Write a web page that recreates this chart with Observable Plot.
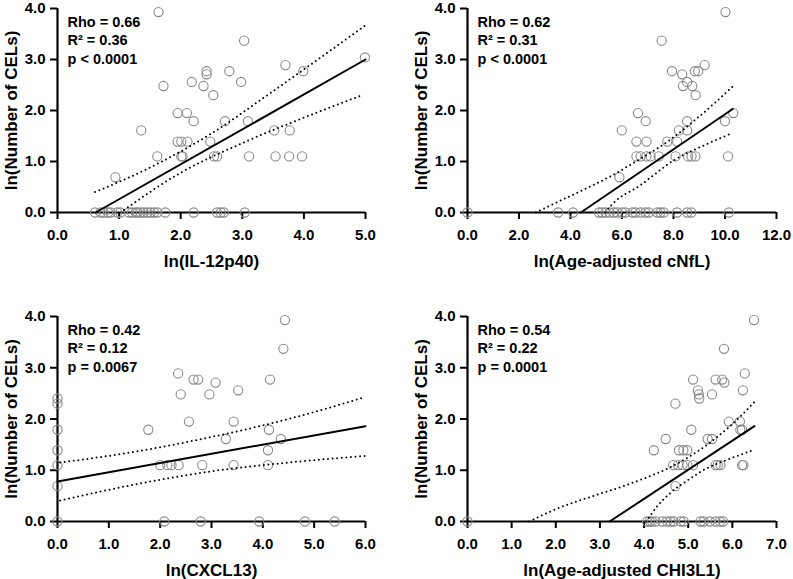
<!DOCTYPE html>
<html><head><meta charset="utf-8">
<script src="https://cdn.jsdelivr.net/npm/d3@7"></script>
<script src="https://cdn.jsdelivr.net/npm/@observablehq/plot@0.6"></script>
<style>
body{margin:0;background:#fff;}
#wrap{position:relative;width:793px;height:579px;overflow:hidden;font-family:"Liberation Sans",Arial,sans-serif;}
#wrap > div{position:absolute;}
</style></head><body>
<div id="wrap">
  <div id="p1" style="left:0;top:0"></div>
  <div id="p2" style="left:410px;top:0"></div>
  <div id="p3" style="left:0;top:300px"></div>
  <div id="p4" style="left:410px;top:300px"></div>
</div>
<script>
// ---------- Panel 1: IL-12p40 ----------
const p1x = [1.64,4.99,3.03,3.70,3.99,2.42,2.42,2.79,1.72,2.18,2.37,2.98,2.53,1.95,2.10,2.21,2.72,3.09,1.36,3.52,3.77,1.95,2.01,2.11,2.48,1.62,2.01,2.03,2.54,2.59,3.11,3.54,3.76,3.97,0.94,
  0.61,0.70,0.75,0.82,0.86,0.97,1.02,1.16,1.21,1.27,1.30,1.35,1.40,1.46,1.51,1.57,1.62,1.75,2.21,2.59,2.65,2.70,3.04];
const p1y = [3.93,3.04,3.37,2.89,2.77,2.77,2.71,2.77,2.48,2.56,2.48,2.56,2.30,1.95,1.95,1.79,1.79,1.79,1.61,1.61,1.61,1.39,1.39,1.39,1.39,1.10,1.10,1.10,1.10,1.10,1.10,1.10,1.10,1.10,0.69,
  0,0,0,0,0,0,0,0,0,0,0,0,0,0,0,0,0,0,0,0,0,0,0];
const p1FitX = [0.62, 5.0], p1FitY = [0, 3.0];
const p1UpX = [0.61,1.5,2.5,3.5,5.0], p1UpY = [0.40,0.88,1.55,2.38,3.67];
const p1LoX = [1.08,2.0,3.0,4.0,4.95], p1LoY = [0.05,0.78,1.36,1.86,2.30];
const p1Ticks = [0,1,2,3,4,5];
const p1Label = "ln(IL-12p40)";
const p1Stats = ["Rho = 0.66", "R\u00B2 = 0.36", "p < 0.0001"];

// ---------- Panel 2: Age-adjusted cNfL ----------
const p2x = [10.02,7.54,9.21,8.96,8.83,7.94,8.34,8.53,8.37,8.73,8.86,6.62,10.32,6.92,8.53,10.0,5.99,8.21,8.53,6.56,6.95,7.76,8.14,6.56,6.72,6.95,7.11,7.43,8.08,8.57,8.70,8.85,10.12,5.90,
  0,3.52,4.10,5.10,5.23,5.36,5.52,5.68,5.81,6.01,6.14,6.40,6.52,6.72,6.91,7.04,7.37,7.49,7.62,8.14,8.53,8.69,10.15];
const p2y = [3.93,3.37,2.89,2.77,2.77,2.77,2.71,2.56,2.48,2.48,2.30,1.95,1.95,1.79,1.79,1.79,1.61,1.61,1.61,1.39,1.39,1.39,1.39,1.10,1.10,1.10,1.10,1.10,1.10,1.10,1.10,1.10,1.10,0.69,
  0,0,0,0,0,0,0,0,0,0,0,0,0,0,0,0,0,0,0,0,0,0,0];
const p2FitX = [4.4, 10.3], p2FitY = [0, 2.03];
const p2UpX = [2.65,3.6,4.4,5.7,6.7,7.8,8.9,10.3], p2UpY = [0,0.23,0.42,0.75,1.05,1.40,1.84,2.47];
const p2LoX = [5.35,5.6,6.7,8.1,9.2,10.25], p2LoY = [0,0.15,0.53,1.05,1.32,1.55];
const p2Ticks = [0,2,4,6,8,10,12];
const p2Label = "ln(Age-adjusted cNfL)";
const p2Stats = ["Rho = 0.62", "R\u00B2 = 0.31", "p < 0.0001"];

// ---------- Panel 3: CXCL13 ----------
const p3x = [0,0,0,0,0,0,0,
  4.43,4.40,2.35,2.65,2.74,4.14,3.08,2.40,2.96,3.52,2.56,3.43,1.77,4.12,3.28,4.35,4.10,2.00,2.14,2.22,2.36,2.82,3.43,4.10,
  2.08,2.79,3.93,4.82,5.40];
const p3y = [2.40,2.30,1.79,1.39,1.10,0.69,0,
  3.93,3.37,2.89,2.77,2.77,2.77,2.71,2.48,2.48,2.56,1.95,1.95,1.79,1.79,1.61,1.61,1.39,1.10,1.10,1.10,1.10,1.10,1.10,1.10,
  0,0,0,0,0];
const p3FitX = [0, 6], p3FitY = [0.78, 1.86];
const p3UpX = [0.05,1.5,3,4.5,6], p3UpY = [1.15,1.36,1.65,2.0,2.43];
const p3LoX = [0.05,1.5,3,4.5,6], p3LoY = [0.41,0.72,0.98,1.15,1.28];
const p3Ticks = [0,1,2,3,4,5,6];
const p3Label = "ln(CXCL13)";
const p3Stats = ["Rho = 0.42", "R\u00B2 = 0.12", "p = 0.0067"];

// ---------- Panel 4: Age-adjusted CHI3L1 ----------
const p4x = [6.49,5.81,6.28,5.11,5.62,5.77,5.82,6.24,5.22,5.24,5.54,5.25,4.71,5.92,6.17,5.07,6.18,6.22,4.49,5.44,5.54,4.22,4.79,4.89,4.98,4.66,4.77,4.87,4.98,5.11,5.62,5.67,5.73,6.22,6.25,4.71,
  0,4.07,4.13,4.18,4.26,4.41,4.52,4.60,4.67,4.83,4.90,5.28,5.35,5.49,5.62,5.72,5.79];
const p4y = [3.93,3.37,2.89,2.77,2.77,2.77,2.71,2.56,2.56,2.48,2.48,2.40,2.30,1.95,1.95,1.79,1.79,1.79,1.61,1.61,1.61,1.39,1.39,1.39,1.39,1.10,1.10,1.10,1.10,1.10,1.10,1.10,1.10,1.10,1.10,0.69,
  0,0,0,0,0,0,0,0,0,0,0,0,0,0,0,0,0];
const p4FitX = [3.22, 6.5], p4FitY = [0, 1.86];
const p4UpX = [1.4,2.0,3.0,3.5,4.0,4.6,5.35,5.96,6.5], p4UpY = [0,0.24,0.54,0.68,0.84,1.06,1.45,1.87,2.33];
const p4LoX = [4.05,4.3,4.6,5.0,5.4,5.9,6.5], p4LoY = [0,0.30,0.56,0.81,1.03,1.21,1.40];
const p4Ticks = [0,1,2,3,4,5,6,7];
const p4Label = "ln(Age-adjusted CHI3L1)";
const p4Stats = ["Rho = 0.54", "R\u00B2 = 0.22", "p = 0.0001"];

const yTicks = [0,1,2,3,4];
const yLabel = "ln(Number of CELs)";

const pts = (xs, ys) => xs.map((x, i) => ({x, y: ys[i]}));
const fmt = d3.format(".1f");
const dotted = {stroke: "#000", strokeWidth: 2, strokeDasharray: "0 4.6", strokeLinecap: "round", curve: "monotone-x"};

function panel(o) {
  return Plot.plot({
    width: o.width, height: o.height,
    marginLeft: 57, marginRight: o.marginRight, marginTop: o.marginTop, marginBottom: o.marginBottom,
    style: {fontFamily: '"Liberation Sans", Arial, sans-serif', fontSize: "15px", fontWeight: "bold", color: "#000", background: "transparent", overflow: "visible"},
    x: {domain: [0, o.ticks[o.ticks.length - 1]]},
    y: {domain: [0, 4]},
    marks: [
      Plot.axisX({ticks: o.ticks, tickFormat: fmt, tickSize: 7, tickPadding: 10, strokeWidth: 2, label: null, fontSize: 15, fontWeight: "bold", fill: "#000"}),
      Plot.axisY({ticks: yTicks, tickFormat: fmt, tickSize: 7, tickPadding: 5, strokeWidth: 2, label: null, fontSize: 15, fontWeight: "bold", fill: "#000"}),
      Plot.ruleY([0], {stroke: "#000", strokeWidth: 2.2}),
      Plot.ruleX([0], {stroke: "#000", strokeWidth: 2.2}),
      Plot.dot(pts(o.xs, o.ys), {x: "x", y: "y", r: 4.6, stroke: "#888", strokeWidth: 1.1, fill: "none"}),
      Plot.line(pts(o.upX, o.upY), {x: "x", y: "y", ...dotted}),
      Plot.line(pts(o.loX, o.loY), {x: "x", y: "y", ...dotted}),
      Plot.line(pts(o.fitX, o.fitY), {x: "x", y: "y", stroke: "#000", strokeWidth: 2}),
      Plot.text([o.stats.join("\n")], {frameAnchor: "top-left", dx: 10, dy: 6, text: d => d, lineAnchor: "top", lineHeight: 1.25, textAnchor: "start", fontSize: 14.5, fontWeight: "bold", fill: "#000"}),
      Plot.text([yLabel], {frameAnchor: "left", rotate: -90, dx: -46, text: d => d, textAnchor: "middle", lineAnchor: "middle", fontSize: 17, fontWeight: "bold", fill: "#000"}),
      Plot.text([o.label], {frameAnchor: "bottom", dy: 49, text: d => d, textAnchor: "middle", lineAnchor: "middle", fontSize: 17, fontWeight: "bold", fill: "#000"})
    ]
  });
}

document.getElementById("p1").append(panel({width: 396, height: 272, marginRight: 31, marginTop: 8, marginBottom: 60,
  xs: p1x, ys: p1y, fitX: p1FitX, fitY: p1FitY, upX: p1UpX, upY: p1UpY, loX: p1LoX, loY: p1LoY, ticks: p1Ticks, label: p1Label, stats: p1Stats}));
document.getElementById("p2").append(panel({width: 383, height: 272, marginRight: 17, marginTop: 8, marginBottom: 60,
  xs: p2x, ys: p2y, fitX: p2FitX, fitY: p2FitY, upX: p2UpX, upY: p2UpY, loX: p2LoX, loY: p2LoY, ticks: p2Ticks, label: p2Label, stats: p2Stats}));
document.getElementById("p3").append(panel({width: 396, height: 279, marginRight: 31, marginTop: 16, marginBottom: 58,
  xs: p3x, ys: p3y, fitX: p3FitX, fitY: p3FitY, upX: p3UpX, upY: p3UpY, loX: p3LoX, loY: p3LoY, ticks: p3Ticks, label: p3Label, stats: p3Stats}));
document.getElementById("p4").append(panel({width: 383, height: 279, marginRight: 17, marginTop: 16, marginBottom: 58,
  xs: p4x, ys: p4y, fitX: p4FitX, fitY: p4FitY, upX: p4UpX, upY: p4UpY, loX: p4LoX, loY: p4LoY, ticks: p4Ticks, label: p4Label, stats: p4Stats}));
</script>
</body></html>
